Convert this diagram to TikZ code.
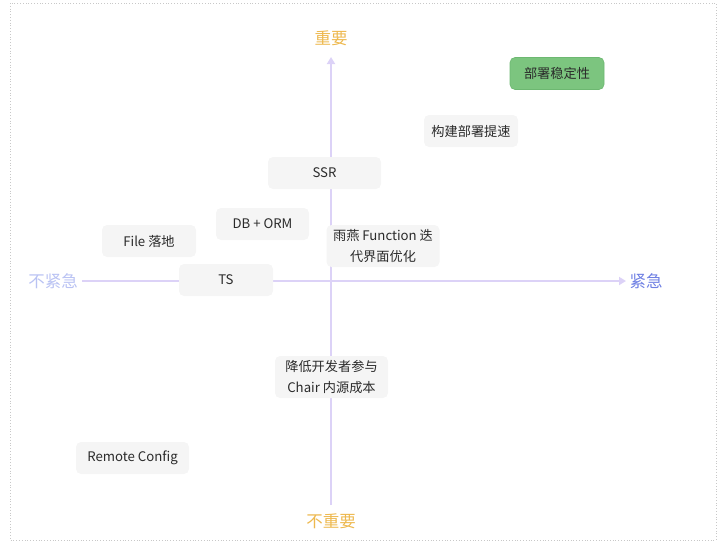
\documentclass[tikz,border=0pt]{standalone}
\usepackage{fontspec}
\setmainfont{Noto Sans CJK SC}
\usetikzlibrary{arrows.meta}
\definecolor{boxfill}{HTML}{F5F5F5}
\definecolor{axiscol}{HTML}{DCD2F7}
\definecolor{impcol}{HTML}{EDB84E}
\definecolor{urgcol}{HTML}{6E7FE3}
\definecolor{nurgcol}{HTML}{B9C2F3}
\definecolor{greenfill}{HTML}{7CC57F}
\definecolor{greenline}{HTML}{6DB871}
\definecolor{txtcol}{HTML}{2B2B2B}
\definecolor{framecol}{HTML}{C8C8C8}
\begin{document}
\begin{tikzpicture}[x=1pt,y=-1pt,
  card/.style={fill=boxfill,draw=none,rounded corners=5pt,text=txtcol,
    font=\fontsize{13.2}{21}\selectfont,align=center,inner sep=0pt},
  axislbl/.style={font=\fontsize{16.5}{18}\selectfont,inner sep=0pt},
  axisline/.style={draw=axiscol,line width=1.8pt,-{Triangle[length=7pt,width=8pt]}}]
\useasboundingbox (0,0) rectangle (720,552);
\draw[framecol,dotted,line width=0.8pt] (10,3) rectangle (716,540);
% axes
\coordinate (vb) at (331,505);
\coordinate (vt) at (331,57);
\coordinate (hl) at (82,281);
\coordinate (hr) at (626,281);
\draw[axisline] (vb) -- (vt);
\draw[axisline] (hl) -- (hr);
\node[axislbl,text=impcol] (imp) at (331,38) {重要};
\node[axislbl,text=impcol] (nimp) at (331,521) {不重要};
\node[axislbl,text=nurgcol] (nurg) at (53,281) {不紧急};
\node[axislbl,text=urgcol] (urg) at (646,281) {紧急};
% cards
\node[card,fill=greenfill,draw=greenline,line width=0.6pt,minimum width=94pt,minimum height=32pt] (stab) at (557,73.5) {部署稳定性};
\node[card,minimum width=94pt,minimum height=32pt] (build) at (471,131) {构建部署提速};
\node[card,minimum width=113pt,minimum height=32pt] (ssr) at (324.5,173) {SSR};
\node[card,minimum width=93pt,minimum height=32pt] (db) at (262.5,224) {DB + ORM};
\node[card,minimum width=94pt,minimum height=32pt] (file) at (149,241) {File 落地};
\node[card,minimum width=113pt,minimum height=42pt] (yy) at (383,246) {雨燕 Function 迭\\代界面优化};
\node[card,minimum width=94pt,minimum height=32pt] (ts) at (226,280) {TS};
\node[card,minimum width=113pt,minimum height=42pt] (chair) at (331.5,377) {降低开发者参与\\Chair 内源成本};
\node[card,minimum width=113pt,minimum height=32pt] (rc) at (132.5,458) {Remote Config};
\end{tikzpicture}
\end{document}
